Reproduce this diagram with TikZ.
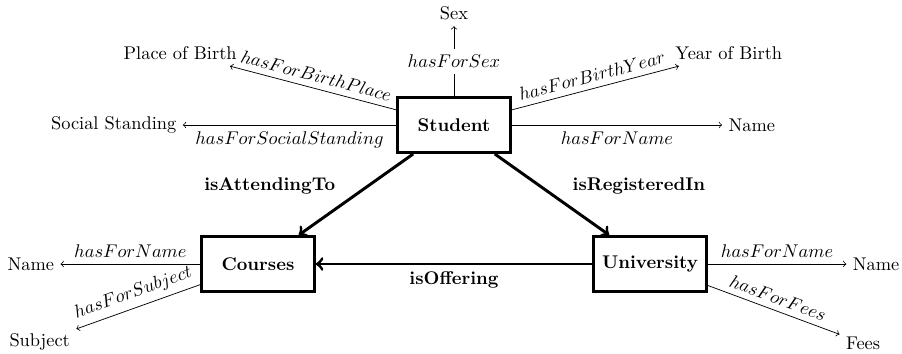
\documentclass[tikz,border=0pt]{standalone}
\usepackage{tikz}
\usetikzlibrary{arrows}
\tikzstyle{concept} = [rectangle, minimum width=2.15cm, minimum height=1.05cm, text centered, draw=black, ultra thick, font=\bfseries]
\tikzstyle{attribute} = [text centered]
\tikzstyle{property} = [->,>={to[scale=1.3]}]
\tikzstyle{relation} = [ultra thick,->,>={to[scale=1.5]}]

\begin{document}
\begin{tikzpicture}[node distance=2cm]
\useasboundingbox (-8.672,-4.374) rectangle (8.558,2.388);

% Nodes
\node (student) [concept] {Student};
\node (courses) [concept, below of=student, xshift=-3.744cm, yshift=-0.655cm] {Courses};
\node (university) [concept, below of=student, xshift=3.744cm, yshift=-0.655cm] {University};

\node (sex) [attribute, above of=student, yshift=0.14cm] {Sex};
\node (yob) [attribute, right of=student, xshift=3.25cm, yshift=1.375cm] {Year of Birth};
\node (pob) [attribute, left of=student, xshift=-3.23cm, yshift=1.375cm] {Place of Birth};
\node (name) [attribute, right of=student, xshift=3.69cm] {Name};
\node (social) [attribute, left of=student, xshift=-4.5cm] {Social Standing};

\node (cname) [attribute, left of=courses, xshift=-2.34cm] {Name};
\node (subject) [attribute, left of=courses, xshift=-2.17cm, yshift=-1.49cm] {Subject};
\node (uname) [attribute, right of=university, xshift=2.32cm] {Name};
\node (fees) [attribute, right of=university, xshift=2.07cm, yshift=-1.51cm] {Fees};

% Arrows
\draw [property] (student) -- node[fill=white] {$hasForSex$} (sex);
\draw [property] (student) -- node[above, sloped] {$hasForBirthYear$} (yob);
\draw [property] (student) -- node[above, sloped] {$hasForBirthPlace$} (pob);
\draw [property] (student) -- node[below] {$hasForName$} (name);
\draw [property] (student) -- node[below] {$hasForSocialStanding$} (social);

\draw [property] (courses) -- node[above] {$hasForName$} (cname);
\draw [property] (courses) -- node[above, sloped] {$hasForSubject$} (subject);
\draw [property] (university) -- node[above] {$hasForName$} (uname);
\draw [property] (university) -- node[above, sloped] {$hasForFees$} (fees);

\draw [relation] (student) -- node[above left, xshift=-0.25cm, yshift=-0.13cm] {\textbf{isAttendingTo}} (courses);
\draw [relation] (student) -- node[above right, xshift=0.25cm, yshift=-0.13cm] {\textbf{isRegisteredIn}} (university);
\draw [relation] (university) -- node[below] {\textbf{isOffering}} (courses);

\end{tikzpicture}
\end{document}
